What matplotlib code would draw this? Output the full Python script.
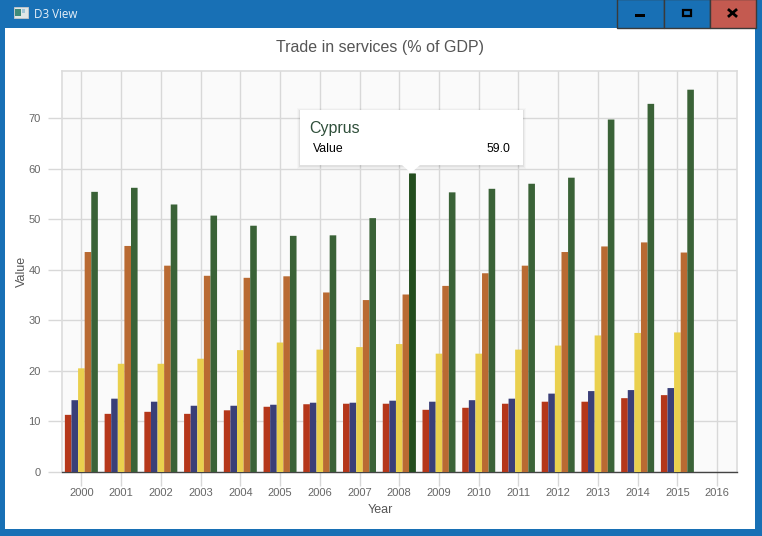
import matplotlib
matplotlib.use("Agg")
import matplotlib.pyplot as plt
from matplotlib.patches import Rectangle, Polygon
import numpy as np

years = list(range(2000, 2017))
red = [11.3, 11.5, 11.9, 11.5, 12.2, 12.9, 13.4, 13.5, 13.5, 12.3, 12.7, 13.5, 13.9, 13.9, 14.6, 15.2]
navy = [14.2, 14.5, 13.9, 13.1, 13.1, 13.3, 13.7, 13.7, 14.1, 13.9, 14.2, 14.5, 15.5, 16.0, 16.2, 16.6]
yellow = [20.5, 21.4, 21.4, 22.4, 24.1, 25.6, 24.2, 24.7, 25.3, 23.4, 23.4, 24.2, 25.0, 27.0, 27.5, 27.6]
orange = [43.5, 44.7, 40.8, 38.8, 38.4, 38.7, 35.5, 34.0, 35.1, 36.8, 39.3, 40.8, 43.5, 44.6, 45.4, 43.4]
green = [55.4, 56.2, 52.9, 50.7, 48.7, 46.7, 46.8, 50.2, 59.0, 55.3, 56.0, 57.0, 58.2, 69.7, 72.8, 75.6]
series = [red, navy, yellow, orange, green]
colors = ["#b5371a", "#3a3f78", "#ead04e", "#b96a32", "#3a6237"]
y_ticks = [0, 10, 20, 30, 40, 50, 60, 70]

W, H = 762, 536
plt.rcParams["font.family"] = ["Liberation Sans", "DejaVu Sans"]
fig = plt.figure(figsize=(W / 100, H / 100), dpi=100, facecolor="#1870b5")

# white client area of the window
bg = fig.add_axes([0, 0, 1, 1], zorder=0)
bg.set_xlim(0, W); bg.set_ylim(H, 0); bg.axis("off")
bg.add_patch(Rectangle((5, 28), 750, 501, fc="white", ec="none"))

# plot area
L, R, T, B = 61.5, 737, 70.5, 472
ax = fig.add_axes([L / W, 1 - B / H, (R - L) / W, (B - T) / H], zorder=1)
ax.set_facecolor("#fafafa")
ax.set_xlim(-0.5, 16.5)
ax.set_ylim(0, (B - T) / 5.057)
ax.set_axisbelow(True)
ax.grid(True, color="#d8d8d8", lw=1.0)
for s in ("top", "left", "right"):
    ax.spines[s].set_color("#dcdcdc")
    ax.spines[s].set_linewidth(1.2)
ax.spines["bottom"].set_color("#444444")
ax.spines["bottom"].set_linewidth(1.0)

w = 0.166
x0 = np.arange(16)
for i, (vals, c) in enumerate(zip(series, colors)):
    for b in ax.bar(x0 + (i - 2) * w, vals, width=w, color=c, linewidth=0, zorder=3):
        b.set_snap(False)
# hovered bar is darker
for b in ax.bar([8 + 2 * w], [green[8]], width=w, color="#234d1e", linewidth=0, zorder=4):
    b.set_snap(False)

ax.set_xticks(range(len(years)))
ax.set_xticklabels(years)
ax.set_yticks(y_ticks)
ax.tick_params(axis="x", length=10, width=1.0, color="#d8d8d8", labelcolor="#666666", labelsize=8, pad=1.5)
ax.tick_params(axis="y", length=10, width=1.0, color="#d8d8d8", labelcolor="#666666", labelsize=8, pad=5)
ax.set_xlabel("Year", fontsize=9, color="#555555")
ax.set_ylabel("Value", fontsize=9, color="#555555")
ax.xaxis.set_label_coords(0.472, -(510 - B) / (B - T), transform=ax.transAxes)
ax.xaxis.label.set_va("center")
ax.yaxis.set_label_coords((22 - L) / (R - L), 0.5, transform=ax.transAxes)
ax.yaxis.label.set_va("center")

# overlay: title, chrome and tooltip
ov = fig.add_axes([0, 0, 1, 1], zorder=5)
ov.set_xlim(0, W); ov.set_ylim(H, 0); ov.axis("off"); ov.patch.set_alpha(0)
ov.text(380, 47.5, "Trade in services (% of GDP)", fontsize=11.5, color="#555555", ha="center", va="center")

# tooltip
for d, a in ((3, .02), (2, .03), (1, .05)):
    ov.add_patch(Rectangle((300 - d, 110 - d + 1), 223 + 2 * d, 55 + 2 * d, fc="black", ec="none", alpha=a))
ov.add_patch(Rectangle((300, 110), 223, 55, fc="white", ec="none"))
ov.add_patch(Polygon([(402, 165), (420, 165), (411, 173)], fc="white", ec="none"))
ov.text(309.5, 128, "Cyprus", fontsize=11.5, color="#2f4f3a", va="center")
ov.text(312.5, 149, "Value", fontsize=8.8, color="black", va="center")
ov.text(510, 149, "59.0", fontsize=8.8, color="black", va="center", ha="right")

# title bar
ov.add_patch(Rectangle((13.5, 7), 14, 11, fc="#dfe6e6", ec="#c8c8c8", lw=.6))
ov.add_patch(Rectangle((15, 9), 6, 7, fc="#3f8a78", ec="none"))
ov.add_patch(Rectangle((22, 9), 3, 4, fc="#9fc5d8", ec="none"))
ov.text(34.5, 14, "D3 View", fontsize=8.4, color="#e8f0f8", family="Open Sans", va="center")
ov.add_patch(Rectangle((616.5, -1), 47, 29, fc="#1870b5", ec="#3a3a3a", lw=1))
ov.add_patch(Rectangle((663.5, -1), 46, 29, fc="#1870b5", ec="#3a3a3a", lw=1))
ov.add_patch(Rectangle((709.5, -1), 46, 29, fc="#c45a50", ec="#3a3a3a", lw=1))
ov.add_patch(Rectangle((635, 14), 10, 3, fc="black", ec="none"))
ov.add_patch(Rectangle((683, 10), 8, 6, fc="none", ec="black", lw=1.6))
ov.plot([729, 736], [10, 16], color="black", lw=2)
ov.plot([729, 736], [16, 10], color="black", lw=2)

fig.savefig("out.png", dpi=100, facecolor=fig.get_facecolor())
